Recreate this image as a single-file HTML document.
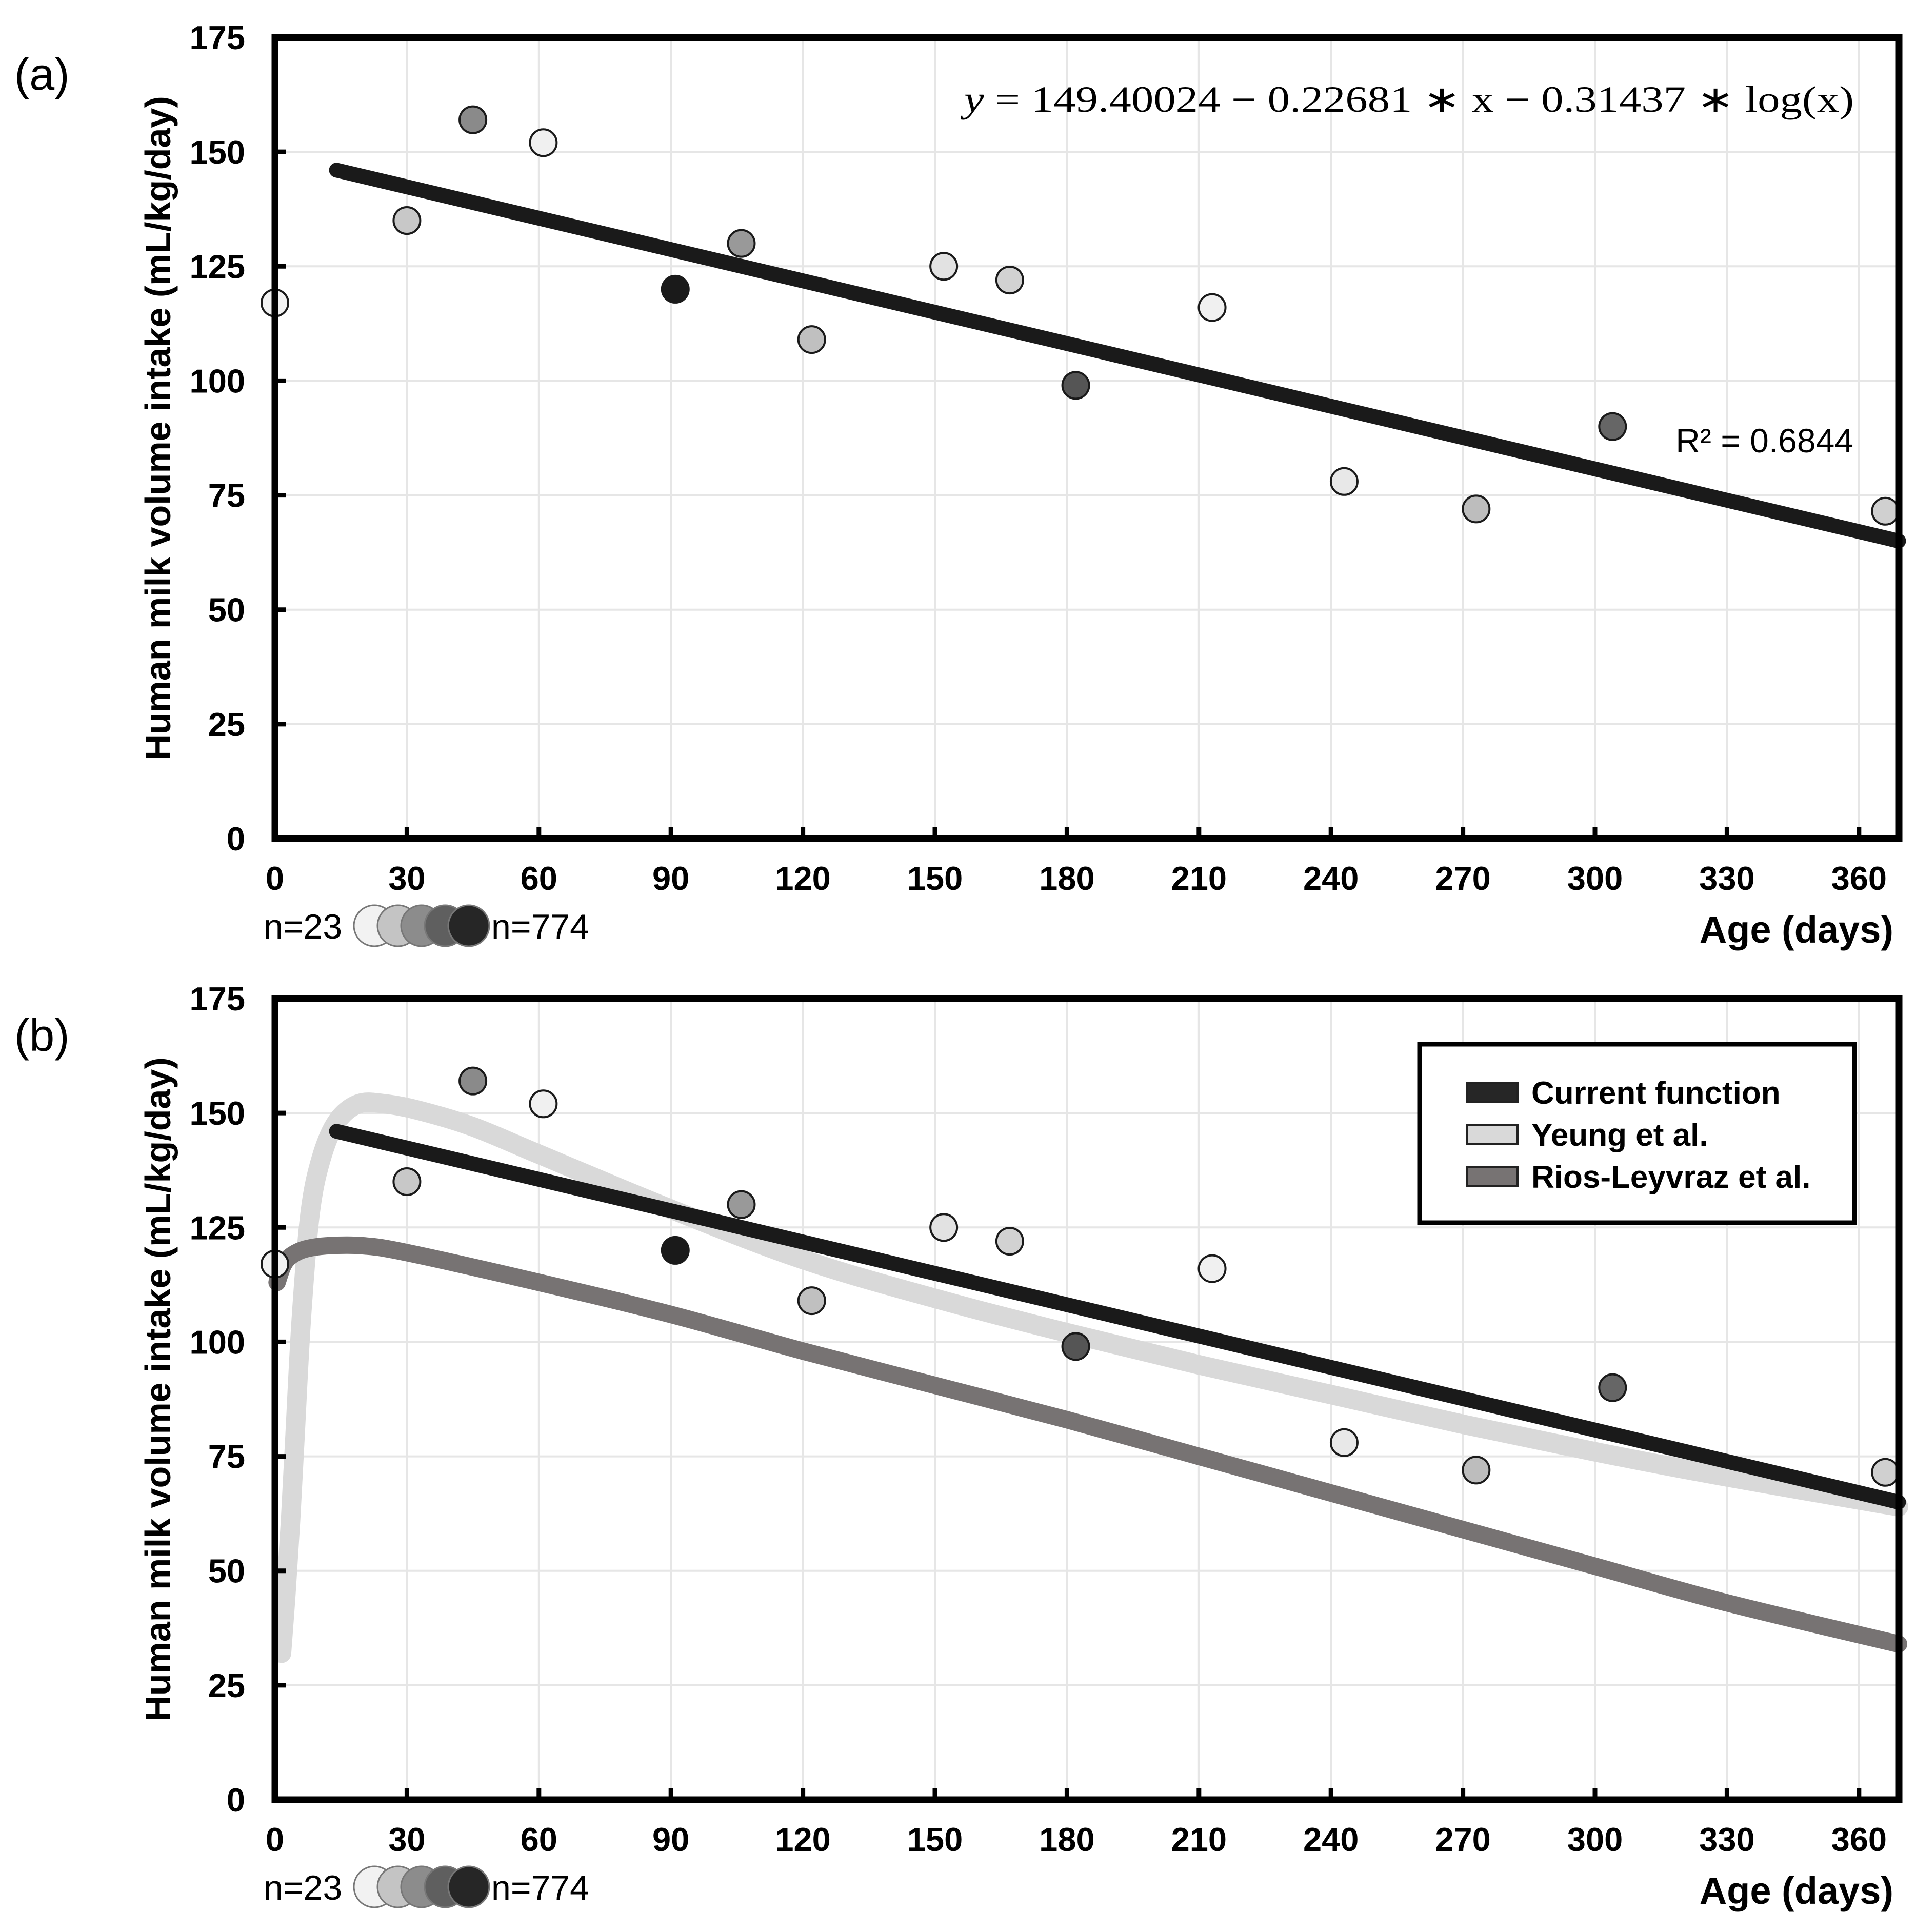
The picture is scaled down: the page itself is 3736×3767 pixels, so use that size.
<!DOCTYPE html>
<html><head><meta charset="utf-8"><style>
html,body{margin:0;padding:0;background:#fff;}
svg{display:block;font-family:"Liberation Sans",Arial,sans-serif;}
</style></head><body>
<svg id="chart" width="3736" height="3767" viewBox="0 0 3736 3767" xmlns="http://www.w3.org/2000/svg"></svg>
<script>
const pointDays = [0, 30, 45, 61, 91, 106, 122, 152, 167, 182, 213, 243, 273, 304, 366];
const pointValues = [117, 135, 157, 152, 120, 130, 109, 125, 122, 99, 116, 78, 72, 90, 71.5];
const pointFills = ["#f2f2f2","#c8c8c8","#8a8a8a","#f0f0f0","#1a1a1a","#999999","#c0c0c0","#e2e2e2","#d2d2d2","#555555","#f0f0f0","#e8e8e8","#bdbdbd","#666666","#d0d0d0"];
const currentDays = [14, 369];
const currentValues = [146, 65];
const yeungDays = [1.5, 2.5, 3.5, 4.5, 6, 8, 10.5, 14, 19, 25, 33, 45, 60, 90, 120, 150, 180, 210, 240, 270, 300, 330, 369];
const yeungValues = [32, 45, 60, 78, 105, 128, 140, 148, 152, 152, 150.5, 147, 141, 129, 118, 109.5, 102, 95, 88.5, 82, 76, 70.5, 64];
const riosDays = [0.5, 2, 4, 7, 12, 20, 30, 60, 90, 120, 150, 180, 210, 240, 270, 300, 330, 369];
const riosValues = [113, 117, 119, 120.3, 121, 121, 119.5, 113, 106, 98, 90.5, 83, 75, 67, 59, 51, 43, 34];
const xTicks = [0, 30, 60, 90, 120, 150, 180, 210, 240, 270, 300, 330, 360];
const yTicks = [0, 25, 50, 75, 100, 125, 150, 175];

const NS = "http://www.w3.org/2000/svg";
const svg = document.getElementById("chart");
const X0 = 536, PXD = 8.58, XR = 3703;
function sx(d){ return X0 + d * PXD; }
function mk(tag, attrs, parent, text){
  const e = document.createElementNS(NS, tag);
  for (const k in attrs) e.setAttribute(k, attrs[k]);
  if (text !== undefined) e.textContent = text;
  (parent || svg).appendChild(e);
  return e;
}
function pathFrom(days, vals, sy){
  return days.map((d,i)=>(i?"L":"M")+sx(d).toFixed(1)+","+sy(vals[i]).toFixed(1)).join(" ");
}
function smoothFrom(days, vals, sy){
  const p = days.map((d,i)=>[sx(d), sy(vals[i])]);
  let s = "M"+p[0][0].toFixed(1)+","+p[0][1].toFixed(1);
  for (let i=0;i<p.length-1;i++){
    const p0=p[Math.max(i-1,0)], p1=p[i], p2=p[i+1], p3=p[Math.min(i+2,p.length-1)];
    const c1=[p1[0]+(p2[0]-p0[0])/6, p1[1]+(p2[1]-p0[1])/6];
    const c2=[p2[0]-(p3[0]-p1[0])/6, p2[1]-(p3[1]-p1[1])/6];
    s += " C"+c1[0].toFixed(1)+","+c1[1].toFixed(1)+" "+c2[0].toFixed(1)+","+c2[1].toFixed(1)+" "+p2[0].toFixed(1)+","+p2[1].toFixed(1);
  }
  return s;
}

function panel(off, label, isB){
  const top = 73 + off, bot = 1635 + off;
  const sy = v => bot - v * (bot - top) / 175;
  const g = mk("g", {});
  
  
  xTicks.forEach(t=>{
    const l = mk("line",{x1:sx(t),x2:sx(t),y1:top,y2:bot,stroke:"#e6e6e6","stroke-width":4},g);
    
    
  });
  yTicks.forEach(t=>{
    const l = mk("line",{x1:X0,x2:XR,y1:sy(t),y2:sy(t),stroke:"#e6e6e6","stroke-width":4},g);
    
    
  });
  if (isB){
    const yp = mk("path",{d:smoothFrom(yeungDays,yeungValues,sy),fill:"none",stroke:"#d9d9d9","stroke-width":38,"stroke-linejoin":"round","stroke-linecap":"round"},g);
    
    
    const rp = mk("path",{d:smoothFrom(riosDays,riosValues,sy),fill:"none",stroke:"#777373","stroke-width":34,"stroke-linejoin":"round","stroke-linecap":"round"},g);
    
    
  }
  const cp = mk("path",{d:pathFrom(currentDays,currentValues,sy),fill:"none",stroke:"#1a1a1a","stroke-width":29,"stroke-linecap":"round"},g);
  
  
  pointDays.forEach((d,i)=>{
    const c = mk("circle",{cx:sx(d),cy:sy(pointValues[i]),r:26,fill:pointFills[i],stroke:"#1a1a1a","stroke-width":4},g);
    
    
  });
  const box = mk("rect",{x:X0,y:top,width:XR-X0,height:bot-top,fill:"none",stroke:"#000","stroke-width":13},g);
  
  
  xTicks.forEach(t=>{
    mk("line",{x1:sx(t),x2:sx(t),y1:bot,y2:bot-22,stroke:"#000","stroke-width":9},g);
    const tl = mk("text",{x:sx(t),y:bot+100,"text-anchor":"middle","font-size":65,"font-weight":"bold"},g,String(t));
    
    
  });
  yTicks.forEach(t=>{
    mk("line",{x1:X0,x2:X0+22,y1:sy(t),y2:sy(t),stroke:"#000","stroke-width":9},g);
    const tl = mk("text",{x:478,y:sy(t)+23,"text-anchor":"end","font-size":65,"font-weight":"bold"},g,String(t));
    
    
  });
  const yt = mk("text",{x:0,y:0,transform:"translate(332,"+(off+835)+") rotate(-90)","text-anchor":"middle","font-size":70,"font-weight":"bold"},g,"Human milk volume intake (mL/kg/day)");
  
  
  const xt = mk("text",{x:3692,y:bot+203,"text-anchor":"end","font-size":74,"font-weight":"bold"},g,"Age (days)");
  
  
  const pl = mk("text",{x:28,y:off+175,"font-size":88},g,label);
  
  
  const lg = mk("g",{},g);
  
  
  const cy = bot + 170;
  mk("text",{x:514,y:cy+25,"font-size":68},lg,"n=23");
  ["#f2f2f2","#c4c4c4","#8c8c8c","#5f5f5f","#262626"].forEach((f,i)=>{
    const c = mk("circle",{cx:730+i*46,cy:cy,r:40,fill:f,stroke:"#777","stroke-width":3},lg);
    
    
  });
  mk("text",{x:958,y:cy+25,"font-size":68},lg,"n=774");
  return {g, sy, top, bot};
}

const a = panel(0, "(a)", false);
const eq = mk("text",{x:1880,y:218,"font-family":"'Liberation Serif',serif","font-size":72,textLength:1735,lengthAdjust:"spacingAndGlyphs"},a.g,"");
mk("tspan",{"font-style":"italic"},eq,"y");
mk("tspan",{},eq," = 149.40024 − 0.22681 ∗ x − 0.31437 ∗ log(x)");


const r2 = mk("text",{x:3614,y:882,"text-anchor":"end","font-size":66},a.g,"R² = 0.6844");



const b = panel(1874, "(b)", true);
const leg = mk("g",{},b.g);


mk("rect",{x:2768,y:2036,width:848,height:348,fill:"#fff",stroke:"#000","stroke-width":9},leg);
const legNames = ["Current function","Yeung et al.","Rios-Leyvraz et al."];
const legColors = ["#262626","#d9d9d9","#777373"];
const legY = [2130, 2212, 2294];
legNames.forEach((n,i)=>{
  const s = mk("rect",{x:2860,y:legY[i]-18,width:99,height:36,fill:legColors[i],stroke:"#222","stroke-width":4},leg);
  
  
  const t = mk("text",{x:2986,y:legY[i]+22,"font-size":62,"font-weight":"bold"},leg,n);
  
  
});
</script>
</body></html>
